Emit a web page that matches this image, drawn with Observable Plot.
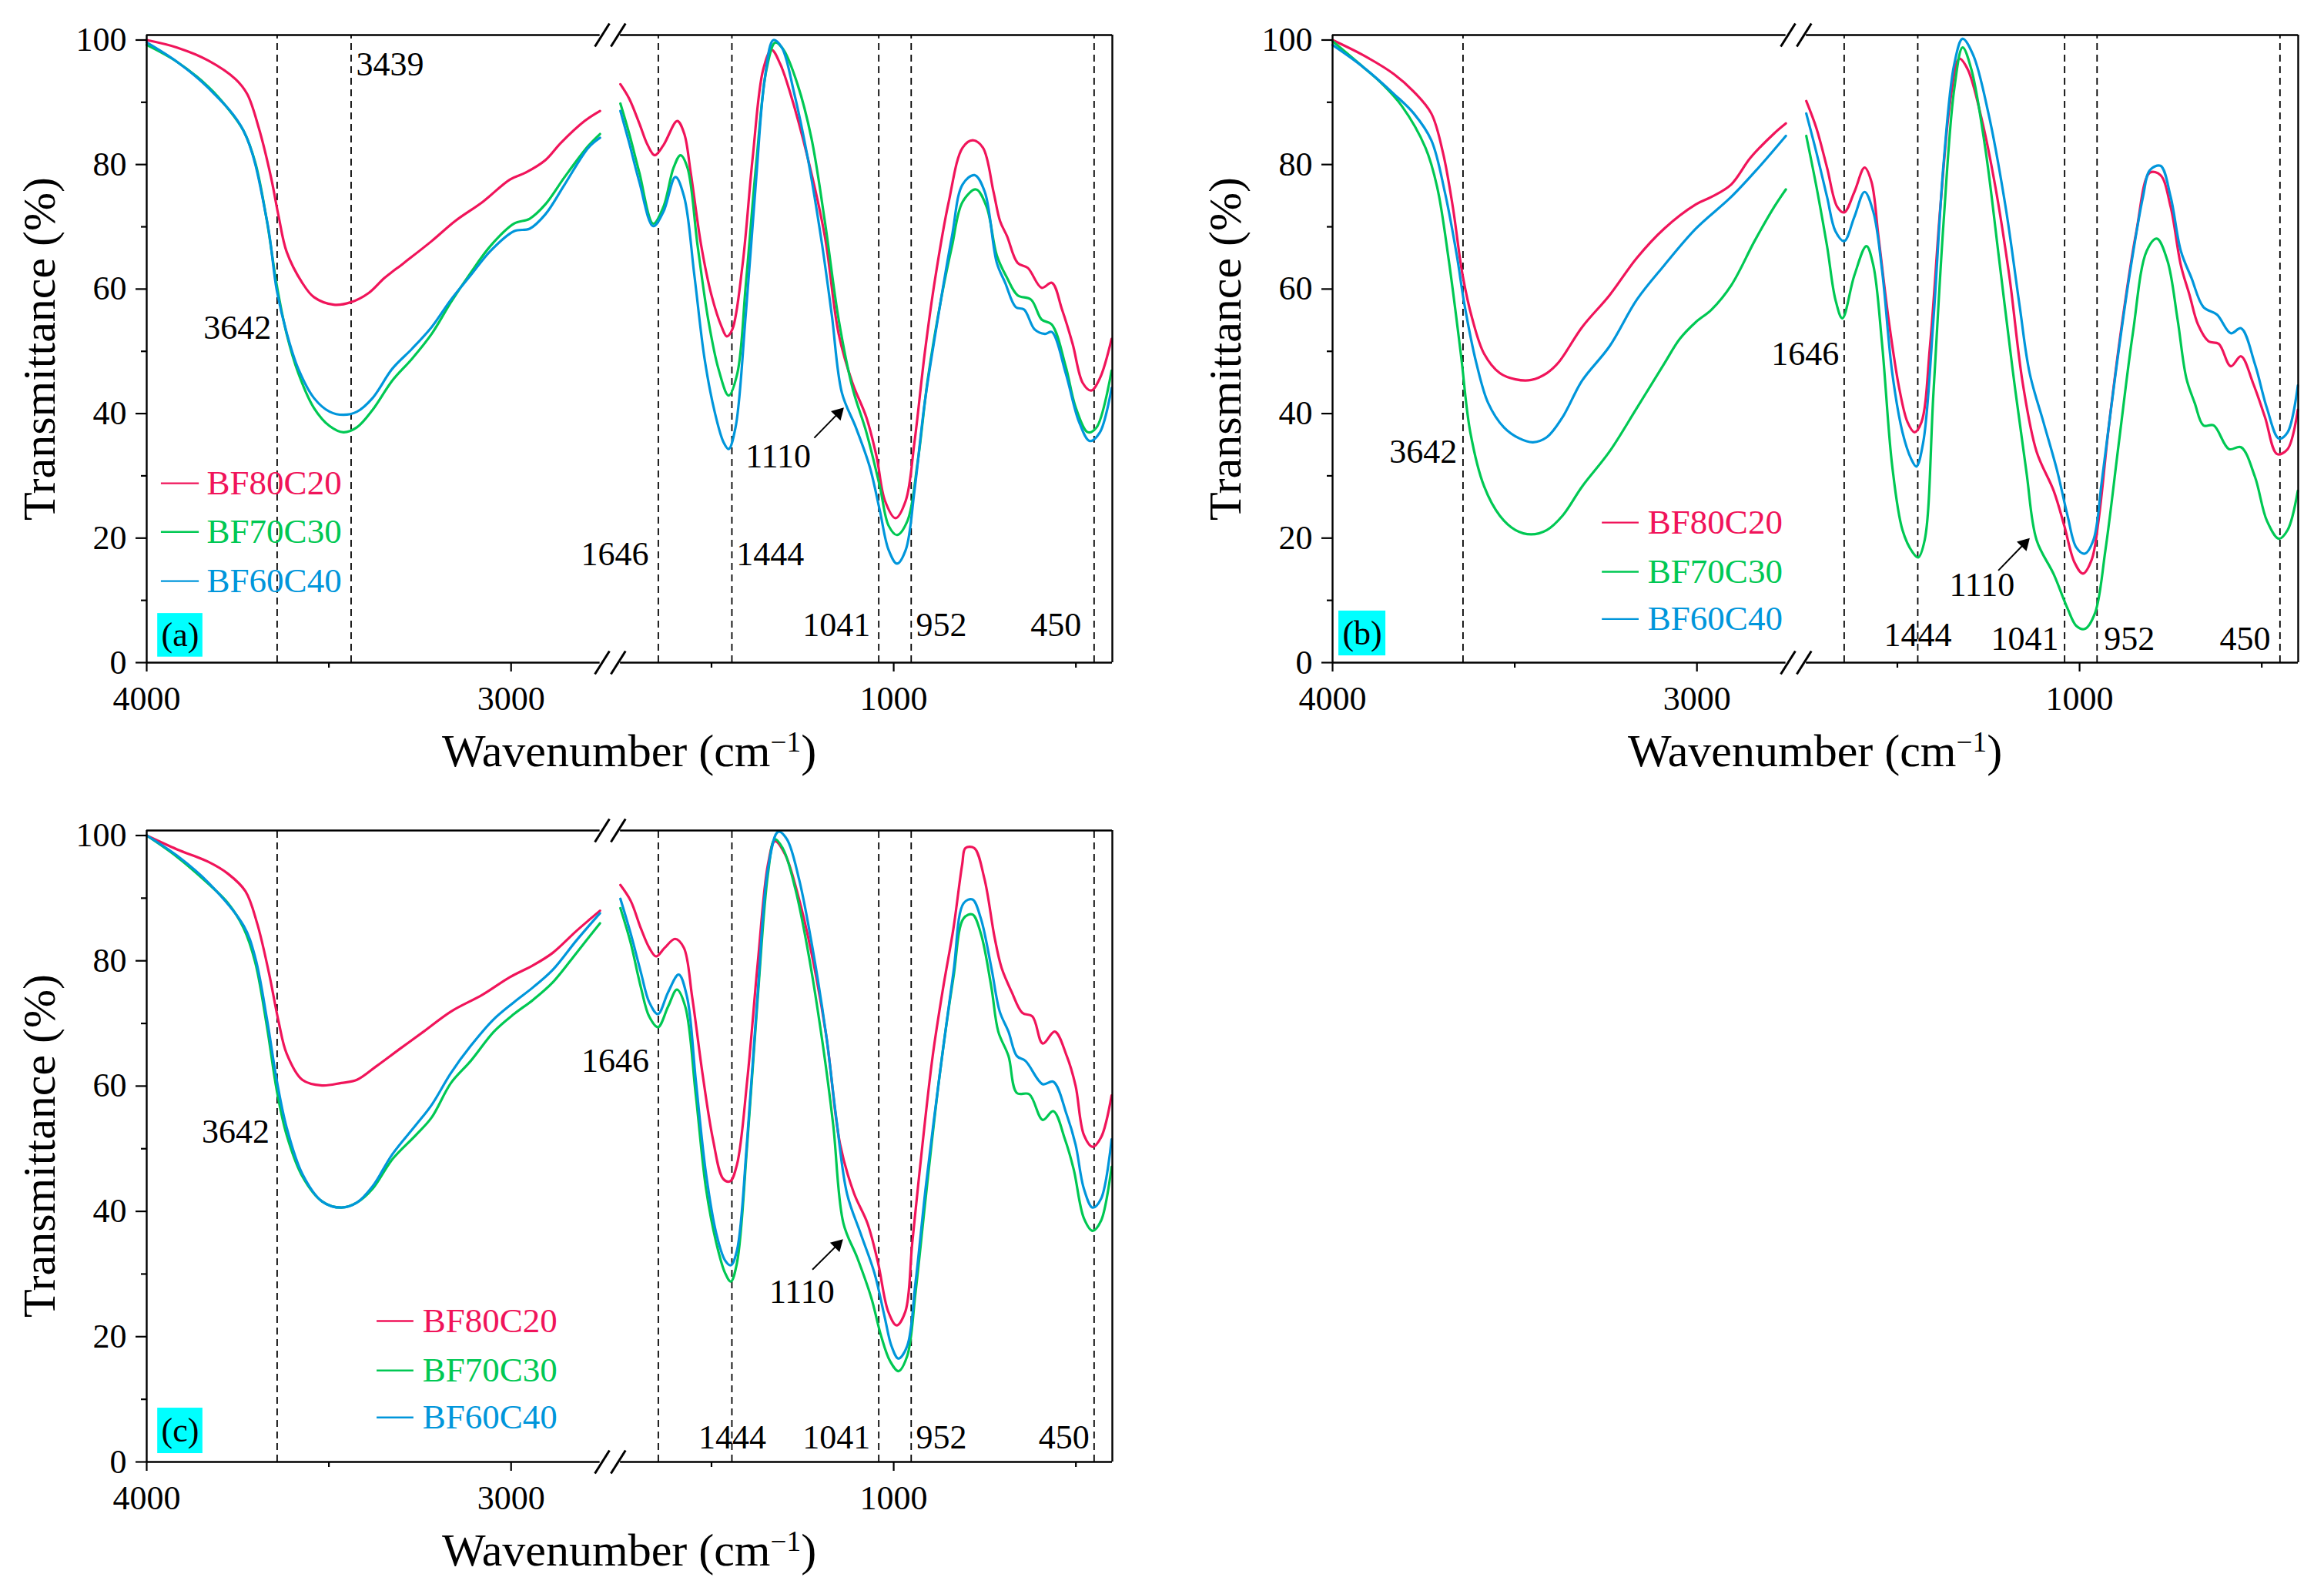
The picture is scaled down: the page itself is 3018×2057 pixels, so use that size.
<!DOCTYPE html>
<html><head><meta charset="utf-8">
<script src="https://cdn.jsdelivr.net/npm/d3@7"></script>
<script src="https://cdn.jsdelivr.net/npm/@observablehq/plot@0.6"></script>
<style>
html,body{margin:0;padding:0;background:#fff;overflow:hidden;}
#root{position:relative;width:3018px;height:2057px;background:#fff;font-family:"Liberation Serif","Times New Roman",serif;color:#000;}
.panel{position:absolute;}
.panel svg{position:absolute;left:0;top:0;}
.ytitle{position:absolute;font-size:60px;white-space:nowrap;line-height:60px;transform:translate(-50%,-50%) rotate(-90deg);}
.xtitle{position:absolute;font-size:60px;white-space:nowrap;line-height:60px;transform:translateX(-50%);}
.xtitle sup{font-size:0.62em;position:relative;top:-0.52em;vertical-align:baseline;line-height:0;}
</style></head><body><div id="root"></div>
<script>
// ---------- data ----------
const SERIES = ["BF80C20", "BF70C30", "BF60C40"];
const COLORS = ["#F0145A", "#00C853", "#0096DB"];
const X_TICKS = [4000, 3000, 1000];
const X_MINOR = [3500, 1500, 500];
const Y_TICKS = [0, 20, 40, 60, 80, 100];
const Y_MINOR = [10, 30, 50, 70, 90];
const LEFT_RANGE = [4000, 2756];   // wavenumber span of left segment
const RIGHT_RANGE = [1750, 400];   // wavenumber span of right segment
const Y_TOP = 100.8;

// panel (a)
const A_BF80C20 = [[4000,100],[3917,98.8],[3831,96.7],[3756,93.7],[3724,91.3],[3692,85.8],[3659,78],[3638,71.7],[3616,66],[3573,61],[3541,58.7],[3487,57.5],[3439,57.9],[3390,59.4],[3347,61.8],[3294,64.2],[3218,67.7],[3154,70.9],[3078,74],[3003,77.6],[2960,78.7],[2906,80.7],[2863,83.5],[2798,87],[2756,88.6],
  [1750,92.9],[1726,90.6],[1698,86.6],[1675,83.1],[1656,81.5],[1632,83.1],[1594,87],[1575,85],[1557,78.7],[1528,66.9],[1500,59],[1472,53.9],[1458,52.4],[1443,53.5],[1415,63.8],[1387,81.1],[1358,95.3],[1335,98.4],[1311,96.1],[1283,91.3],[1236,81.1],[1189,68.5],[1151,52.8],[1113,44.9],[1075,39.4],[1047,33.1],[1024,26],[995,23.2],[967,26],[943,35.4],[915,49.6],[887,61.4],[849,74],[811,82.7],[783,83.9],[755,82.7],[726,75.6],[708,70.9],[689,68.5],[660,64.2],[632,63.4],[594,60.2],[566,61],[538,56.7],[509,51.2],[481,44.9],[458,43.7],[434,45.7],[402,52]];
const A_BF70C30 = [[4000,99.2],[3917,96.5],[3831,92.5],[3777,89],[3734,85.4],[3702,80.3],[3670,70.9],[3643,60.6],[3616,52.8],[3584,46.5],[3541,40.9],[3498,38],[3460,37],[3423,37.8],[3380,40.6],[3326,45.3],[3272,48.8],[3218,52.8],[3165,57.9],[3111,62.6],[3057,66.9],[2992,70.5],[2949,71.3],[2906,73.6],[2853,78],[2788,83],[2756,84.9],
  [1750,89.8],[1726,85],[1698,78.7],[1660,70.5],[1632,73.2],[1604,79.5],[1585,81.5],[1566,79.5],[1538,66.9],[1509,55.1],[1481,47.2],[1453,42.9],[1429,46.5],[1406,60.6],[1377,80.3],[1349,95.3],[1325,99.6],[1302,98.4],[1264,92.9],[1226,84.3],[1189,70.9],[1151,55.1],[1113,44.1],[1075,37],[1038,28.3],[1014,22],[991,20.5],[962,22.8],[934,32.3],[906,45.7],[868,59],[840,66.9],[811,74],[774,76],[745,73.2],[717,65.4],[689,61.8],[660,59],[623,58.3],[594,55.1],[566,54.3],[528,47.6],[500,40.9],[467,37],[443,37.8],[402,46.9]];
const A_BF60C40 = [[4000,99.6],[3917,96.5],[3831,92.3],[3734,85.4],[3670,71],[3643,59.8],[3616,53],[3584,47.2],[3541,42.5],[3498,40.3],[3460,39.8],[3423,40.3],[3380,42.5],[3326,47.2],[3272,50.4],[3218,53.9],[3165,58.3],[3111,62.2],[3057,66.1],[2992,69.3],[2949,69.7],[2906,72],[2853,76.8],[2788,82.7],[2756,84.3],
  [1750,88.6],[1726,83.5],[1698,77.2],[1660,70.1],[1632,72.4],[1599,78],[1575,74.8],[1547,62.2],[1519,48.8],[1491,40.2],[1467,35.4],[1453,34.3],[1434,37.8],[1406,55.9],[1377,78],[1354,93.7],[1330,100],[1307,98.8],[1274,91.7],[1236,81.1],[1198,67.7],[1170,55.9],[1142,43.3],[1104,37.8],[1066,31.5],[1038,24.4],[1014,18.1],[991,15.9],[967,18.1],[943,27.6],[915,41.7],[877,55.9],[840,68.5],[811,76.8],[778,78.3],[750,75.6],[717,64.2],[694,61],[665,57.1],[642,56.7],[613,53.5],[585,52.8],[566,53.1],[528,46.5],[491,38.6],[462,35.6],[434,37],[402,44.1]];
const A_DASHED = [3642, 3439, 1646, 1444, 1041, 952, 450];
const A_NOTES = [["3439",3425,96,"start"],["3642",3658,53.8,"end"],["1646",1672,17.4,"end"],["1444",1432,17.4,"start"],["1110",1317,33.1,"middle"],["1041",1064,6,"end"],["952",939,6,"start"],["450",485,6,"end"]];
const A_ARROW = [1218, 36.1, 1138, 40.9];

// panel (b)
const B_BF80C20 = [[4000,100],[3917,97.6],[3831,94.5],[3777,91.7],[3729,88.2],[3697,81.9],[3670,73.2],[3643,62.2],[3616,55.1],[3584,49.6],[3541,46.5],[3498,45.5],[3455,45.4],[3412,46.5],[3380,48.2],[3315,53.9],[3240,59],[3165,65],[3090,69.7],[3003,73.6],[2960,74.8],[2906,76.8],[2853,81.1],[2788,85],[2756,86.6],
  [1750,90.2],[1722,85.8],[1693,79.5],[1665,73.2],[1646,72.3],[1618,75.6],[1590,79.5],[1571,77.2],[1552,68.5],[1524,55.1],[1495,44.1],[1472,38.6],[1453,37],[1434,38.6],[1410,51.2],[1382,73.2],[1354,90.6],[1330,97],[1307,95.3],[1269,87.4],[1231,76.4],[1193,62.2],[1156,44.9],[1118,33.9],[1071,27.6],[1042,22],[1014,16.1],[991,14.3],[967,16.5],[948,22.8],[920,37.8],[882,55.1],[844,69.3],[807,78.7],[778,78.3],[750,73.2],[722,63.8],[698,59],[675,54.3],[646,51.6],[618,51.2],[585,47.6],[557,49.2],[524,44.9],[491,39.4],[458,33.5],[429,34.3],[401,40.6]];
const B_BF70C30 = [[4000,99.8],[3917,95.7],[3863,92.9],[3810,89.4],[3745,82.7],[3713,76.4],[3681,64.6],[3648,49.6],[3622,37],[3584,28.3],[3541,23.6],[3498,21.3],[3455,20.6],[3412,21.3],[3369,23.6],[3315,28.3],[3240,33.9],[3165,40.9],[3090,48],[3047,52],[3003,54.7],[2960,56.7],[2906,60.6],[2842,67.7],[2788,73.2],[2756,76],
  [1750,84.6],[1722,76.4],[1693,66.9],[1670,58.3],[1651,55.3],[1618,62.2],[1585,66.9],[1566,63.8],[1542,51.2],[1514,31.5],[1486,21.3],[1458,17.7],[1443,16.9],[1425,19.7],[1401,43.3],[1373,70.9],[1344,92.1],[1321,98.8],[1297,95.3],[1259,82.7],[1222,65.4],[1184,47.2],[1146,30.7],[1118,19.7],[1071,14.2],[1033,8.7],[1009,5.9],[986,5.4],[958,7.9],[929,18.1],[892,35.4],[854,52.8],[816,66.1],[788,68.1],[759,64.6],[731,55.1],[707,45.7],[684,41.7],[660,38.1],[632,38.1],[590,34.3],[557,34.6],[519,29.9],[486,22.8],[453,19.9],[429,21.3],[401,27.6]];
const B_BF60C40 = [[4000,99.2],[3917,95.7],[3831,91.3],[3777,88.2],[3729,83.9],[3692,75.6],[3659,65.4],[3638,57.5],[3605,48],[3573,41.7],[3530,37.8],[3487,36],[3450,35.4],[3412,36.2],[3369,39.4],[3315,45.3],[3240,50.8],[3165,58.3],[3090,63.8],[3003,69.7],[2906,74.8],[2831,79.5],[2756,84.6],
  [1750,88.2],[1722,81.9],[1693,74.8],[1670,69.3],[1646,67.7],[1618,71.6],[1590,75.6],[1566,72.4],[1542,63],[1514,46.5],[1486,37],[1462,32.7],[1448,31.5],[1429,35.4],[1401,55.1],[1373,80.3],[1344,96.1],[1321,100.2],[1292,97.6],[1250,88.2],[1203,73.2],[1165,57.5],[1137,46.5],[1099,38.6],[1061,30.7],[1033,23.6],[1009,18.5],[986,17.5],[962,19.7],[939,29.1],[901,46.5],[863,62.2],[826,74.8],[807,79.1],[778,79.8],[750,74.8],[722,66.1],[693,61.8],[660,57.1],[623,55.9],[585,52.9],[557,53.7],[519,48],[486,40.9],[453,36],[429,37],[401,44.5]];
const B_DASHED = [3642, 1646, 1444, 1041, 952, 450];
const B_NOTES = [["3642",3658,33.8,"end"],["1646",1660,49.6,"end"],["1444",1444,4.4,"middle"],["1110",1268,12.4,"middle"],["1041",1057,3.8,"end"],["952",933,3.8,"start"],["450",476,3.8,"end"]];
const B_ARROW = [1223, 14.8, 1137, 20];

// panel (c)
const C_BF80C20 = [[4000,100],[3917,97.8],[3831,95.8],[3777,93.9],[3729,91.1],[3697,86],[3665,78.2],[3638,70.3],[3616,65.2],[3573,61],[3519,60.1],[3466,60.5],[3423,61],[3369,63.2],[3304,66],[3240,68.7],[3165,71.9],[3078,74.6],[3003,77.4],[2939,79.3],[2885,81.3],[2820,84.8],[2756,88],
  [1750,92.1],[1722,89.6],[1694,85.2],[1671,82.1],[1652,80.7],[1628,82.1],[1600,83.5],[1576,82.1],[1553,74.2],[1524,61.7],[1496,51.5],[1468,45.2],[1449,44.8],[1430,47.5],[1402,60.9],[1373,79.7],[1345,95.4],[1326,99.1],[1298,97],[1260,89.9],[1223,80.5],[1185,68],[1147,50.7],[1109,42.9],[1072,38.1],[1043,31.8],[1015,24],[992,21.8],[968,24],[949,35],[921,50.7],[893,64.8],[864,75.8],[836,85.2],[812,95.4],[803,98],[779,98],[751,93.1],[723,83.7],[704,78.9],[676,75],[647,71.7],[619,71.1],[591,66.8],[558,68.7],[525,64.8],[501,60.1],[478,52.2],[454,50.3],[431,51.8],[402,58.5]];
const C_BF70C30 = [[4000,100],[3917,96.6],[3831,92.3],[3777,89.2],[3734,85.2],[3702,79.7],[3670,69.5],[3643,59.3],[3616,52.2],[3573,45.6],[3519,41.6],[3466,40.6],[3423,41.4],[3380,43.6],[3326,48.3],[3261,52.2],[3218,55],[3165,60.5],[3111,64],[3047,68.7],[2992,71.5],[2939,73.8],[2885,76.6],[2820,81.3],[2756,86],
  [1750,88.4],[1722,82.9],[1694,75.8],[1671,71.1],[1647,69.4],[1619,72.7],[1595,75.4],[1572,72.7],[1543,58.5],[1515,43.6],[1487,35],[1463,30.2],[1447,28.8],[1430,31.8],[1402,50.7],[1373,74.2],[1345,93.9],[1326,99.4],[1303,97.8],[1270,91.5],[1232,80.5],[1194,66.4],[1166,53.8],[1138,38.1],[1100,32.6],[1062,26.3],[1034,20],[1010,16.1],[987,14.5],[963,16.9],[940,27.1],[911,42.8],[874,61.7],[836,77.4],[808,86.8],[784,87.4],[761,84.4],[732,75.8],[713,68.7],[685,64.8],[662,58.9],[628,58.7],[591,54.6],[562,56],[530,51.5],[506,46.7],[478,38.9],[454,36.9],[431,38.5],[402,47.1]];
const C_BF60C40 = [[4000,100],[3917,96.8],[3831,92.5],[3734,85.6],[3702,80.5],[3670,70.7],[3643,60.9],[3616,53.4],[3573,46],[3519,41.6],[3466,40.6],[3423,41.4],[3380,44],[3326,49.1],[3261,53.8],[3218,57],[3165,62.1],[3111,66.4],[3047,70.7],[2992,73.4],[2939,75.8],[2885,78.6],[2820,83.3],[2756,87.6],
  [1750,89.9],[1722,84.4],[1694,78.2],[1671,73.4],[1647,71.5],[1619,75],[1590,77.8],[1567,74.2],[1543,60.9],[1515,46],[1487,36.5],[1463,32.2],[1447,31.4],[1430,33.8],[1402,51.5],[1373,75],[1345,94.7],[1317,100.6],[1293,99.4],[1260,93.1],[1223,82.1],[1185,68],[1157,54.6],[1128,42.8],[1091,36.5],[1053,30.2],[1025,23.2],[1006,18.5],[987,16.5],[963,18.5],[940,28.7],[911,44.4],[874,61.7],[836,78.2],[808,89.2],[784,89.8],[761,86.8],[732,78.9],[709,71.9],[685,68.7],[662,64.8],[638,64],[591,60.3],[562,60.7],[525,55.4],[501,50.7],[478,43.6],[454,40.6],[431,42],[402,51.5]];
const C_DASHED = [3642, 1646, 1444, 1041, 952, 450];
const C_NOTES = [["3642",3663,52.7,"end"],["1646",1671,64,"end"],["1444",1443,3.9,"middle"],["1110",1252,27.1,"middle"],["1041",1064,3.9,"end"],["952",939,3.9,"start"],["450",463,3.9,"end"]];
const C_ARROW = [1223, 30.7, 1140, 35.5];

// ---------- broken-axis coordinate ----------
const GAP = 50; // visual gap between the two segments, in wavenumber units
const toU = w => w > 2000 ? LEFT_RANGE[0] - w : (LEFT_RANGE[0] - 2750 + GAP) + (1750 - w);
const fromU = u => u <= 1250 ? LEFT_RANGE[0] - u : (LEFT_RANGE[0] - 2750 + GAP) + 1750 - u;
const U_MAX = toU(RIGHT_RANGE[1]);

// ---------- layout ----------
const PANELS = [
  {tag: "(a)", left: 0, top: 0, plotH: 815, series: [A_BF80C20, A_BF70C30, A_BF60C40], dashed: A_DASHED, notes: A_NOTES, arrow: A_ARROW,
   legend: {u1: 40, u2: 144, uText: 165, rows: [28.8, 21, 13.1]}, box: {u1: 30, u2: 154, t1: 0.9, t2: 7.9}},
  {tag: "(b)", left: 1540, top: 0, plotH: 815, series: [B_BF80C20, B_BF70C30, B_BF60C40], dashed: B_DASHED, notes: B_NOTES, arrow: B_ARROW,
   legend: {u1: 740, u2: 841, uText: 865, rows: [22.5, 14.6, 7]}, box: {u1: 17, u2: 146, t1: 1.1, t2: 8.3}},
  {tag: "(c)", left: 0, top: 1033, plotH: 820, series: [C_BF80C20, C_BF70C30, C_BF60C40], dashed: C_DASHED, notes: C_NOTES, arrow: C_ARROW,
   legend: {u1: 632, u2: 733, uText: 757, rows: [22.5, 14.6, 7.1]}, box: {u1: 30, u2: 154, t1: 1.35, t2: 8.6}}
];
const M = {left: 190, right: 26, top: 45, bottom: 170};
const W = 1444 + M.right;
const FONT = '"Liberation Serif", "Times New Roman", serif';

function buildPanel(p) {
  const H = M.top + p.plotH + M.bottom;
  const kx = (W - M.left - M.right) / U_MAX, ky = p.plotH / Y_TOP; // px per unit (for arrow-head angle)
  const uL = toU(LEFT_RANGE[1]), uR = toU(RIGHT_RANGE[0]);
  const frameH = [
    {y: 0, x1: 0, x2: uL}, {y: 0, x1: uR, x2: U_MAX},
    {y: Y_TOP, x1: 0, x2: uL}, {y: Y_TOP, x1: uR, x2: U_MAX}
  ];
  const gapMid = (uL + uR) / 2;
  const slashes = [];
  for (const yy of [0, Y_TOP]) for (const off of [-22, 22]) slashes.push({x1: gapMid + off - 20, x2: gapMid + off + 20, y1: yy - 1.85, y2: yy + 1.85});

  // arrow geometry
  const ax1 = toU(p.arrow[0]), ay1 = p.arrow[1], ax2 = toU(p.arrow[2]), ay2 = p.arrow[3];
  const angle = Math.atan2((ax2 - ax1) * kx, (ay2 - ay1) * ky) * 180 / Math.PI;
  const head = {x: ax2 - (ax2 - ax1) * 0.17, y: ay2 - (ay2 - ay1) * 0.17};

  const marks = [
    Plot.ruleX(p.dashed, {x: d => toU(d), y1: 0, y2: Y_TOP, stroke: "#000", strokeWidth: 1.8, strokeDasharray: "9,6"}),
  ];
  p.series.forEach((arr, i) => {
    const rows = arr.map(([w, t]) => ({u: toU(w), t, seg: w > 2000 ? "L" : "R"}));
    marks.push(Plot.line(rows, {x: "u", y: "t", z: "seg", stroke: COLORS[i], strokeWidth: 3.2, curve: "catmull-rom"}));
  });
  marks.push(
    Plot.ruleY(frameH, {y: "y", x1: "x1", x2: "x2", stroke: "#000", strokeWidth: 2.4}),
    Plot.ruleX([0, U_MAX], {x: d => d, y1: 0, y2: Y_TOP, stroke: "#000", strokeWidth: 2.4}),
    Plot.link(slashes, {x1: "x1", y1: "y1", x2: "x2", y2: "y2", stroke: "#000", strokeWidth: 3}),
    Plot.axisX(X_TICKS.map(toU), {tickSize: 12, tickPadding: 18, tickFormat: u => String(fromU(u)), fontSize: 44, strokeWidth: 2.2, label: null}),
    Plot.axisX(X_MINOR.map(toU), {tickSize: 7, tickFormat: () => "", strokeWidth: 2.2, label: null}),
    Plot.axisY(Y_TICKS, {tickSize: 14, tickPadding: 12, fontSize: 44, strokeWidth: 2.2, label: null}),
    Plot.axisY(Y_MINOR, {tickSize: 7, tickFormat: () => "", strokeWidth: 2.2, label: null})
  );
  for (const anchor of ["start", "middle", "end"]) {
    marks.push(Plot.text(p.notes.filter(n => n[3] === anchor), {x: d => toU(d[1]), y: d => d[2], text: d => d[0], textAnchor: anchor, fontSize: 44, fill: "#000"}));
  }
  marks.push(
    Plot.link([p.arrow], {x1: d => toU(d[0]), y1: d => d[1], x2: () => head.x, y2: () => head.y, stroke: "#000", strokeWidth: 2}),
    Plot.dot([head], {x: "x", y: "y", symbol: "triangle", r: 6.5, rotate: angle, fill: "#000", stroke: "none"})
  );
  SERIES.forEach((s, i) => {
    marks.push(Plot.ruleY([p.legend.rows[i]], {y: d => d, x1: p.legend.u1, x2: p.legend.u2, stroke: COLORS[i], strokeWidth: 2.4}));
    marks.push(Plot.text([s], {x: p.legend.uText, y: p.legend.rows[i], text: d => d, textAnchor: "start", fill: COLORS[i], fontSize: 45}));
  });
  marks.push(
    Plot.rect([p.box], {x1: "u1", x2: "u2", y1: "t1", y2: "t2", fill: "#00FFFF"}),
    Plot.text([p.tag], {x: (p.box.u1 + p.box.u2) / 2, y: (p.box.t1 + p.box.t2) / 2, text: d => d, fontSize: 44, fill: "#000"})
  );

  const svg = Plot.plot({
    width: W, height: H,
    marginLeft: M.left, marginRight: M.right, marginTop: M.top, marginBottom: M.bottom,
    x: {domain: [0, U_MAX], label: null},
    y: {domain: [0, Y_TOP], label: null},
    style: {fontFamily: FONT, fontSize: "44px", color: "#000", background: "transparent", overflow: "visible"},
    marks
  });

  const div = document.createElement("div");
  div.className = "panel";
  div.style.left = p.left + "px"; div.style.top = p.top + "px";
  div.style.width = W + "px"; div.style.height = H + "px";
  div.appendChild(svg);

  const yt = document.createElement("div");
  yt.className = "ytitle";
  yt.textContent = "Transmittance (%)";
  yt.style.left = "51px";
  yt.style.top = (M.top + p.plotH / 2) + "px";
  div.appendChild(yt);

  const xt = document.createElement("div");
  xt.className = "xtitle";
  xt.innerHTML = "Wavenumber (cm<sup>\u22121</sup>)";
  xt.style.left = ((M.left + 1444) / 2) + "px";
  xt.style.top = (M.top + p.plotH + 85) + "px";
  div.appendChild(xt);
  return div;
}

const root = document.getElementById("root");
PANELS.forEach(p => root.appendChild(buildPanel(p)));
</script>
</body></html>
